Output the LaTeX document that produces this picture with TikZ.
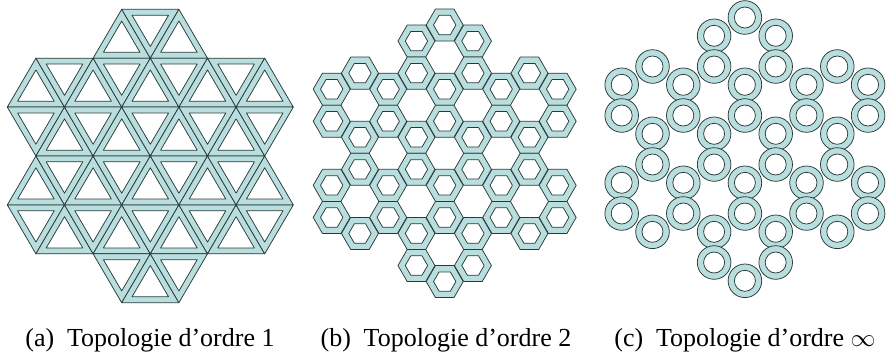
\documentclass[tikz,border=0pt]{standalone}
\usepackage{fontspec}
\setmainfont{Liberation Serif}
\newfontfamily\capserif{Liberation Serif}
\definecolor{ringcol}{RGB}{186,222,222}
\definecolor{edgecol}{RGB}{38,58,58}
\tikzset{
  ringfill/.style={fill=ringcol,draw=edgecol,line width=0.75pt,line join=round},
  holefill/.style={fill=white,draw=edgecol,line width=0.75pt,line join=round},
  captext/.style={anchor=base,inner sep=0pt,font=\capserif\fontsize{26}{30}\selectfont}
}
\begin{document}
\begin{tikzpicture}[x=1pt,y=-1pt]
\useasboundingbox (0,0) rectangle (887,360);
\foreach \j/\cmin/\cmax in {0/4/6,1/1/9,2/1/9,3/1/9,4/1/9,5/4/6}{
  \foreach \c in {\cmin,...,\cmax}{
    \pgfmathtruncatemacro\up{mod(\c+\j,2)==0 ? 1 : 0}
    \pgfmathsetmacro\sg{\up==1 ? 1 : -1}
    % (a) triangles
    \pgfmathsetmacro\cx{7.3 + \c*28.6}
    \pgfmathsetmacro\cy{9.3 + \j*48.9 + (\up==1 ? 32.6 : 16.3)}
    \pgfmathsetmacro\ty{-32.6*\sg}
    \pgfmathsetmacro\by{16.3*\sg}
    \begin{scope}[shift={(\cx,\cy)}]
      \draw[ringfill] (0,\ty) -- (28.6,\by) -- (-28.6,\by) -- cycle;
      \draw[holefill,scale=0.64] (0,\ty) -- (28.6,\by) -- (-28.6,\by) -- cycle;
    \end{scope}
    % (b) hexagons
    \pgfmathsetmacro\hx{331.7 + (\c-1)*28.25}
    \pgfmathsetmacro\hy{9.0 + \j*48.1 + (\up==1 ? 32.07 : 16.03)}
    \begin{scope}[shift={(\hx,\hy)}]
      \draw[ringfill] (0:18.5) -- (60:18.5) -- (120:18.5) -- (180:18.5) -- (240:18.5) -- (300:18.5) -- cycle;
      \draw[holefill] (0:11.2) -- (60:11.2) -- (120:11.2) -- (180:11.2) -- (240:11.2) -- (300:11.2) -- cycle;
    \end{scope}
    % (c) circles
    \pgfmathsetmacro\ox{621.7 + (\c-1)*30.8}
    \pgfmathsetmacro\oy{17.5 + \j*49 + (\up==1 ? 18.3 : 0)}
    \draw[ringfill] (\ox,\oy) circle[radius=16.8];
    \draw[holefill] (\ox,\oy) circle[radius=10.5];
  }
}
\node[captext] (capa) at (150,346) {(a)\hspace{0.49em}Topologie d’ordre 1};
\node[captext] (capb) at (446,346) {(b)\hspace{0.49em}Topologie d’ordre 2};
\node[captext] (capc) at (745,346) {(c)\hspace{0.49em}Topologie d’ordre $\infty$};
\end{tikzpicture}
\end{document}
